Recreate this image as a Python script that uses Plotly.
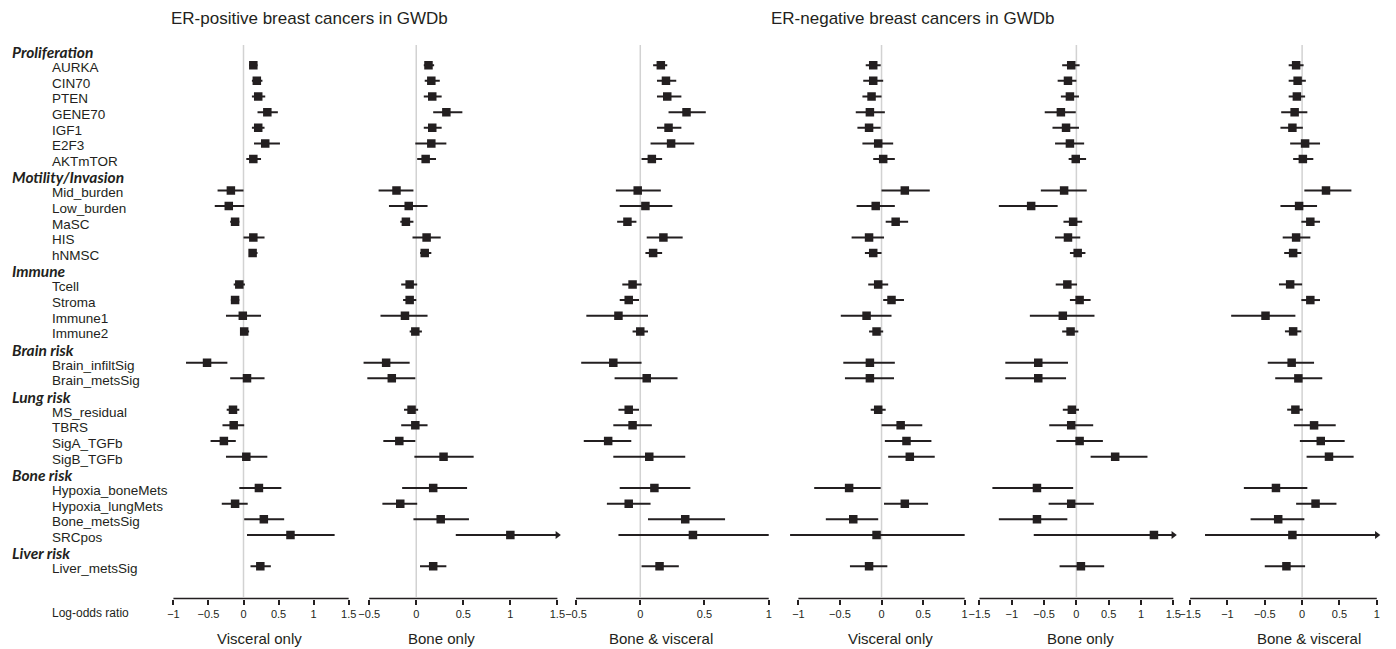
import plotly.graph_objects as go

# ---------------- data ----------------
group_names = ["Proliferation", "Motility/Invasion", "Immune", "Brain risk",
               "Lung risk", "Bone risk", "Liver risk"]
group_members = [
    ["AURKA", "CIN70", "PTEN", "GENE70", "IGF1", "E2F3", "AKTmTOR"],
    ["Mid_burden", "Low_burden", "MaSC", "HIS", "hNMSC"],
    ["Tcell", "Stroma", "Immune1", "Immune2"],
    ["Brain_infiltSig", "Brain_metsSig"],
    ["MS_residual", "TBRS", "SigA_TGFb", "SigB_TGFb"],
    ["Hypoxia_boneMets", "Hypoxia_lungMets", "Bone_metsSig", "SRCpos"],
    ["Liver_metsSig"],
]

panel_titles = ["Visceral only", "Bone only", "Bone & visceral",
                "Visceral only", "Bone only", "Bone & visceral"]
cohort_titles = ["ER-positive breast cancers in GWDb", "ER-negative breast cancers in GWDb"]
axis_label = "Log-odds ratio"

tick_values = [
    [-1, -0.5, 0, 0.5, 1, 1.5],
    [-0.5, 0, 0.5, 1, 1.5],
    [-0.5, 0, 0.5, 1],
    [-1, -0.5, 0, 0.5, 1],
    [-1.5, -1, -0.5, 0, 0.5, 1, 1.5],
    [-1.5, -1, -0.5, 0, 0.5, 1],
]

# ER-positive, visceral only
erpos_visc_est = [0.14, 0.19, 0.21, 0.34, 0.21, 0.31, 0.14, -0.18, -0.21, -0.12, 0.14, 0.13,
                  -0.06, -0.12, -0.01, 0.01, -0.52, 0.05, -0.15, -0.14, -0.28, 0.04,
                  0.22, -0.12, 0.29, 0.67, 0.24]
erpos_visc_lo = [0.08, 0.12, 0.12, 0.20, 0.12, 0.15, 0.04, -0.37, -0.41, -0.19, 0.00, 0.08,
                 -0.14, -0.18, -0.25, -0.05, -0.82, -0.19, -0.24, -0.30, -0.47, -0.25,
                 -0.06, -0.31, 0.01, 0.05, 0.10]
erpos_visc_hi = [0.20, 0.27, 0.31, 0.49, 0.30, 0.52, 0.25, 0.00, 0.01, -0.06, 0.30, 0.20,
                 0.02, -0.06, 0.25, 0.08, -0.23, 0.30, -0.06, 0.01, -0.11, 0.34,
                 0.54, 0.06, 0.58, 1.30, 0.39]
# ER-positive, bone only
erpos_bone_est = [0.13, 0.16, 0.17, 0.32, 0.17, 0.16, 0.10, -0.21, -0.08, -0.11, 0.11, 0.09,
                  -0.07, -0.07, -0.12, -0.01, -0.32, -0.26, -0.05, -0.01, -0.18, 0.29,
                  0.18, -0.17, 0.26, 1.00, 0.18]
erpos_bone_lo = [0.08, 0.09, 0.08, 0.18, 0.08, -0.01, 0.01, -0.40, -0.29, -0.17, -0.04, 0.04,
                 -0.16, -0.14, -0.38, -0.07, -0.56, -0.52, -0.13, -0.16, -0.35, -0.02,
                 -0.15, -0.36, -0.03, 0.42, 0.04]
erpos_bone_hi = [0.19, 0.25, 0.27, 0.49, 0.27, 0.32, 0.21, -0.03, 0.12, -0.03, 0.26, 0.16,
                 0.01, 0.00, 0.12, 0.06, -0.07, -0.01, 0.02, 0.12, -0.01, 0.61,
                 0.54, 0.01, 0.56, 1.62, 0.32]
# ER-positive, bone & visceral
erpos_both_est = [0.16, 0.20, 0.21, 0.36, 0.22, 0.24, 0.09, -0.02, 0.04, -0.10, 0.18, 0.10,
                  -0.06, -0.09, -0.17, 0.00, -0.21, 0.05, -0.09, -0.06, -0.25, 0.07,
                  0.11, -0.09, 0.35, 0.41, 0.15]
erpos_both_lo = [0.10, 0.13, 0.13, 0.22, 0.13, 0.08, 0.01, -0.19, -0.16, -0.18, 0.05, 0.04,
                 -0.14, -0.16, -0.42, -0.06, -0.46, -0.20, -0.17, -0.21, -0.44, -0.21,
                 -0.16, -0.26, 0.06, -0.17, 0.01]
erpos_both_hi = [0.21, 0.28, 0.32, 0.51, 0.32, 0.42, 0.17, 0.16, 0.25, -0.03, 0.33, 0.17,
                 0.01, -0.01, 0.06, 0.06, 0.01, 0.29, -0.01, 0.09, -0.07, 0.35,
                 0.39, 0.08, 0.66, 1.00, 0.30]
# ER-negative, visceral only
erneg_visc_est = [-0.10, -0.10, -0.12, -0.14, -0.15, -0.04, 0.02, 0.28, -0.07, 0.17, -0.15, -0.10,
                  -0.04, 0.12, -0.18, -0.06, -0.14, -0.14, -0.04, 0.23, 0.30, 0.34,
                  -0.39, 0.28, -0.34, -0.06, -0.15]
erneg_visc_lo = [-0.19, -0.22, -0.23, -0.31, -0.29, -0.23, -0.10, 0.00, -0.30, 0.05, -0.36, -0.20,
                 -0.16, 0.02, -0.49, -0.15, -0.46, -0.44, -0.13, 0.00, 0.04, 0.08,
                 -0.81, 0.03, -0.67, -1.10, -0.38]
erneg_visc_hi = [-0.01, 0.02, 0.00, 0.04, -0.01, 0.14, 0.16, 0.58, 0.16, 0.32, 0.03, 0.00,
                 0.08, 0.27, 0.12, 0.02, 0.16, 0.15, 0.05, 0.49, 0.60, 0.64,
                 -0.01, 0.56, -0.04, 1.00, 0.07]
# ER-negative, bone only
erneg_bone_est = [-0.08, -0.13, -0.10, -0.24, -0.16, -0.10, -0.01, -0.19, -0.70, -0.05, -0.13, 0.02,
                  -0.14, 0.05, -0.21, -0.09, -0.59, -0.59, -0.07, -0.08, 0.05, 0.60,
                  -0.61, -0.08, -0.61, 1.20, 0.07]
erneg_bone_lo = [-0.22, -0.29, -0.24, -0.49, -0.37, -0.33, -0.12, -0.55, -1.20, -0.20, -0.33, -0.10,
                 -0.32, -0.10, -0.72, -0.22, -1.10, -1.10, -0.21, -0.42, -0.31, 0.22,
                 -1.30, -0.43, -1.20, -0.66, -0.26]
erneg_bone_hi = [0.05, 0.00, 0.04, -0.01, 0.04, 0.12, 0.15, 0.16, -0.29, 0.09, 0.06, 0.14,
                 0.01, 0.22, 0.28, 0.03, -0.13, -0.16, 0.04, 0.26, 0.41, 1.10,
                 -0.05, 0.27, -0.14, 1.80, 0.43]
# ER-negative, bone & visceral
erneg_both_est = [-0.08, -0.06, -0.07, -0.10, -0.13, 0.04, 0.01, 0.32, -0.04, 0.11, -0.08, -0.12,
                  -0.16, 0.11, -0.49, -0.12, -0.14, -0.05, -0.09, 0.16, 0.25, 0.36,
                  -0.35, 0.18, -0.32, -0.13, -0.21]
erneg_both_lo = [-0.18, -0.18, -0.18, -0.28, -0.29, -0.16, -0.12, 0.03, -0.29, -0.01, -0.26, -0.24,
                 -0.31, -0.01, -0.95, -0.23, -0.46, -0.36, -0.20, -0.11, -0.03, 0.06,
                 -0.78, -0.08, -0.69, -1.30, -0.50]
erneg_both_hi = [0.02, 0.05, 0.04, 0.07, 0.01, 0.24, 0.15, 0.66, 0.20, 0.24, 0.11, -0.01,
                 0.00, 0.24, -0.09, -0.01, 0.16, 0.27, 0.01, 0.45, 0.57, 0.69,
                 0.07, 0.46, 0.03, 1.10, 0.04]

panel_data = [
    (erpos_visc_est, erpos_visc_lo, erpos_visc_hi),
    (erpos_bone_est, erpos_bone_lo, erpos_bone_hi),
    (erpos_both_est, erpos_both_lo, erpos_both_hi),
    (erneg_visc_est, erneg_visc_lo, erneg_visc_hi),
    (erneg_bone_est, erneg_bone_lo, erneg_bone_hi),
    (erneg_both_est, erneg_both_lo, erneg_both_hi),
]

# ---------------- layout geometry (page pixels) ----------------
PAGE_W, PAGE_H = 1396, 649
OFF = 8                      # default body margin of the page
W, H = PAGE_W - OFF, PAGE_H - OFF
INK = "#231f20"
FONT = "Liberation Sans, Arial, sans-serif"

# zero position (px), px per unit, domain left/right px
panel_geom = [
    (238.5, 70.4, 158, 352),
    (412.0, 94.5, 352, 564),
    (637.0, 129.0, 566, 772),
    (879.3, 83.5, 782, 968),
    (1075.0, 64.9, 972, 1182),
    (1301.7, 75.0, 1184, 1390),
]
title_centers_px = [254.5, 437, 657.5, 888, 1079.5, 1309]

ROW0_PX, ROW_PX = 49.5, 15.66
Y_TOP_PX, Y_BOT_PX = 40, 598.5


def px2paper_x(px):
    return (px - OFF) / W


def px2paper_y(py):
    return 1 - (py - OFF) / H


# rows
row_labels, row_is_header, item_rows = [], [], []
r = 0
for g, members in zip(group_names, group_members):
    row_labels.append(g)
    row_is_header.append(True)
    r += 1
    for m in members:
        row_labels.append(m)
        row_is_header.append(False)
        item_rows.append(r)
        r += 1

fig = go.Figure()
shapes, annotations = [], []

for i, ((est, lo, hi), (zero, scale, left, right), ticks) in enumerate(
        zip(panel_data, panel_geom, tick_values)):
    xname = "x" if i == 0 else f"x{i + 1}"
    axmax = ticks[-1]
    axmin = ticks[0]
    hi_draw = [min(h, axmax) for h in hi]

    # zero reference line
    shapes.append(dict(type="line", xref=xname, yref="paper", x0=0, x1=0,
                       y0=px2paper_y(45), y1=px2paper_y(597),
                       line=dict(color="#d2d2d2", width=1.5), layer="below"))
    # axis line over tick span
    shapes.append(dict(type="line", xref=xname, yref="paper", x0=axmin, x1=axmax,
                       y0=px2paper_y(Y_BOT_PX), y1=px2paper_y(Y_BOT_PX),
                       line=dict(color=INK, width=1.6)))

    fig.add_trace(go.Scatter(
        x=est, y=item_rows, mode="markers", xaxis=xname, yaxis="y",
        marker=dict(symbol="square", size=8.5, color=INK),
        error_x=dict(type="data", symmetric=False,
                     array=[h - e for h, e in zip(hi_draw, est)],
                     arrayminus=[e - l for e, l in zip(est, lo)],
                     thickness=2, width=0, color=INK),
        showlegend=False, hoverinfo="skip"))

    # arrows for intervals running past the axis
    arr_x = [axmax for h in hi if h > axmax]
    arr_y = [rr for h, rr in zip(hi, item_rows) if h > axmax]
    if arr_x:
        fig.add_trace(go.Scatter(
            x=arr_x, y=arr_y, mode="markers", xaxis=xname, yaxis="y",
            marker=dict(symbol="triangle-right", size=7, color=INK),
            showlegend=False, hoverinfo="skip"))

    rng = [(left - zero) / scale, (right - zero) / scale]
    ticktext = [("\u2212" if t < 0 else "") + ("%g" % abs(t)) for t in ticks]
    fig.layout[("xaxis" if i == 0 else f"xaxis{i + 1}")] = dict(
        domain=[px2paper_x(left), px2paper_x(right)], range=rng, anchor="y",
        showgrid=False, zeroline=False, showline=False,
        tickmode="array", tickvals=ticks, ticktext=ticktext,
        ticks="outside", ticklen=5, tickwidth=1.5, tickcolor=INK,
        tickfont=dict(family=FONT, size=11, color=INK),
        fixedrange=True)

    annotations.append(dict(text=panel_titles[i], xref="paper", yref="paper",
                            x=px2paper_x(title_centers_px[i]), y=px2paper_y(638),
                            xanchor="center", yanchor="middle", showarrow=False,
                            font=dict(family=FONT, size=15, color=INK)))

# row labels
for rr, (lab, is_h) in enumerate(zip(row_labels, row_is_header)):
    if is_h:
        annotations.append(dict(text=f"<b><i>{lab}</i></b>", xref="paper", yref="y",
                                x=px2paper_x(5), y=rr, xanchor="left", yanchor="middle",
                                yshift=-2.5, showarrow=False, borderpad=0,
                                font=dict(family="Lato, Open Sans, sans-serif", size=15.5, color=INK)))
    else:
        annotations.append(dict(text=lab, xref="paper", yref="y",
                                x=px2paper_x(45), y=rr, xanchor="left", yanchor="middle",
                                yshift=-2.5, showarrow=False, borderpad=0,
                                font=dict(family=FONT, size=13.5, color=INK)))

annotations.append(dict(text=axis_label, xref="paper", yref="paper", x=px2paper_x(45),
                        y=px2paper_y(613), xanchor="left", yanchor="middle", borderpad=0,
                        showarrow=False, font=dict(family=FONT, size=12, color=INK)))
for t, xpx in zip(cohort_titles, [165, 767]):
    annotations.append(dict(text=t, xref="paper", yref="paper", x=px2paper_x(xpx),
                            y=px2paper_y(19), xanchor="left", yanchor="middle", borderpad=0,
                            showarrow=False, font=dict(family=FONT, size=17, color=INK)))

y_rng = [(Y_BOT_PX - ROW0_PX) / ROW_PX, (Y_TOP_PX - ROW0_PX) / ROW_PX]
fig.update_layout(
    width=W, height=H, margin=dict(l=0, r=0, t=0, b=0),
    paper_bgcolor="white", plot_bgcolor="rgba(0,0,0,0)",
    yaxis=dict(domain=[px2paper_y(Y_BOT_PX), px2paper_y(Y_TOP_PX)], range=y_rng,
               visible=False, fixedrange=True),
    shapes=shapes, annotations=annotations,
)

fig.write_html("out.html")
